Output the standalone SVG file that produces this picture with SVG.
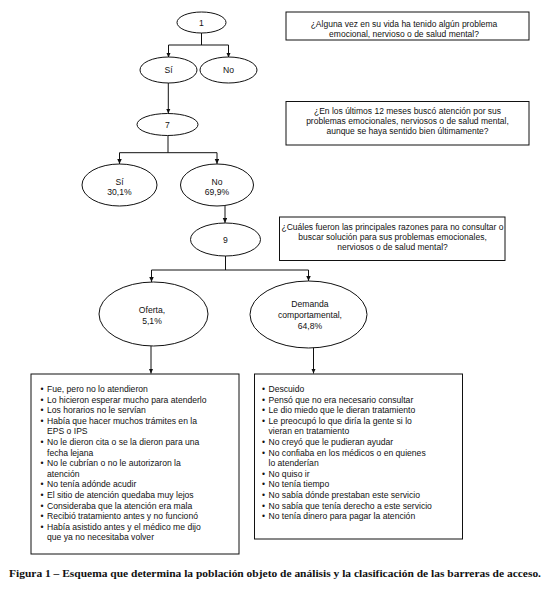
<svg xmlns="http://www.w3.org/2000/svg" width="545" height="598" viewBox="0 0 545 598">
<defs>
<marker id="arr" markerUnits="userSpaceOnUse" markerWidth="6" markerHeight="6" refX="5" refY="2.25" orient="auto">
<path d="M0,0 L5,2.25 L0,4.5 z" fill="#111"/>
</marker>
<style>
.n{fill:#fff;stroke:#111;stroke-width:1}
.t{font-family:"Liberation Sans",Arial,sans-serif;font-size:8.6px;fill:#111}
.c{text-anchor:middle}
.q{font-size:8.5px}
.e{stroke:#111;stroke-width:1;fill:none}
.cap{font-family:"Liberation Serif","Times New Roman",serif;font-size:10px;font-weight:bold;fill:#111}
</style>
</defs>
<rect width="545" height="598" fill="#fff"/>
<g id="connectors">
<path class="e" d="M201.5,33 V45 M168.5,45 H228.5"/>
<path class="e" d="M168.5,45 V57.5" marker-end="url(#arr)"/>
<path class="e" d="M228.5,45 V57.5" marker-end="url(#arr)"/>
<path class="e" d="M168.3,83 V113.5" marker-end="url(#arr)"/>
<path class="e" d="M168,135.5 V152.7 M119.5,152.7 H217"/>
<path class="e" d="M119.5,152.7 V164" marker-end="url(#arr)"/>
<path class="e" d="M217,152.7 V164" marker-end="url(#arr)"/>
<path class="e" d="M225,205 V223" marker-end="url(#arr)"/>
<path class="e" d="M225.5,256 V270 M151.5,270 H308.5"/>
<path class="e" d="M151.5,270 V282" marker-end="url(#arr)"/>
<path class="e" d="M308.5,270 V281" marker-end="url(#arr)"/>
<path class="e" d="M151,346 V373.5" marker-end="url(#arr)"/>
<path class="e" d="M313.5,347 V373.5" marker-end="url(#arr)"/>
</g>
<g id="n1">
<ellipse class="n" cx="201.5" cy="22.5" rx="24.5" ry="10.5"/>
<text class="t c" x="201.5" y="25.5">1</text>
</g>
<g id="q1">
<rect class="n" x="286" y="12" width="243" height="28"/>
<text class="t c q" x="404" y="26.5">¿Alguna vez en su vida ha tenido algún problema</text>
<text class="t c q" x="404" y="36.5">emocional, nervioso o de salud mental?</text>
</g>
<g id="si1">
<ellipse class="n" cx="168.5" cy="70" rx="28.5" ry="13"/>
<text class="t c" x="168.5" y="73">Sí</text>
</g>
<g id="no1">
<ellipse class="n" cx="228.5" cy="70" rx="28.5" ry="13"/>
<text class="t c" x="228.5" y="73">No</text>
</g>
<g id="n7">
<ellipse class="n" cx="167.5" cy="124.5" rx="30.5" ry="11"/>
<text class="t c" x="167.5" y="127.5">7</text>
</g>
<g id="q7">
<rect class="n" x="286" y="101.5" width="243" height="43.5"/>
<text class="t c q" x="407.5" y="113.5">¿En los últimos 12 meses buscó atención por sus</text>
<text class="t c q" x="407.5" y="123.5">problemas emocionales, nerviosos o de salud mental,</text>
<text class="t c q" x="407.5" y="133.5">aunque se haya sentido bien últimamente?</text>
</g>
<g id="si7">
<ellipse class="n" cx="119.5" cy="185" rx="37.5" ry="21"/>
<text class="t c" x="119.5" y="184.5">Sí</text>
<text class="t c" x="119.5" y="195">30,1%</text>
</g>
<g id="no7">
<ellipse class="n" cx="217" cy="185" rx="36.5" ry="21"/>
<text class="t c" x="217" y="184.5">No</text>
<text class="t c" x="217" y="195">69,9%</text>
</g>
<g id="n9">
<ellipse class="n" cx="225.5" cy="239.5" rx="35" ry="16.5"/>
<text class="t c" x="225.5" y="242.5">9</text>
</g>
<g id="q9">
<rect class="n" x="279.5" y="217" width="225.5" height="43.5"/>
<text class="t c q" x="392.5" y="229.5">¿Cuáles fueron las principales razones para no consultar o</text>
<text class="t c q" x="392.5" y="239.5">buscar solución para sus problemas emocionales,</text>
<text class="t c q" x="392.5" y="249.5">nerviosos o de salud mental?</text>
</g>
<g id="oferta">
<ellipse class="n" cx="153.5" cy="314" rx="54.5" ry="32"/>
<text class="t c" x="152" y="312.5">Oferta,</text>
<text class="t c" x="152" y="323.5">5,1%</text>
</g>
<g id="demanda">
<ellipse class="n" cx="308.5" cy="314.5" rx="58.5" ry="33.5"/>
<text class="t c" x="310" y="307">Demanda</text>
<text class="t c" x="310" y="318">comportamental,</text>
<text class="t c" x="310" y="328.5">64,8%</text>
</g>
<g id="lista-oferta">
<rect class="n" x="31" y="374" width="208" height="180"/>
<g class="t">
<text x="40.5" y="392">•</text><text x="47" y="392">Fue, pero no lo atendieron</text>
<text x="40.5" y="402.6">•</text><text x="47" y="402.6">Lo hicieron esperar mucho para atenderlo</text>
<text x="40.5" y="413.2">•</text><text x="47" y="413.2">Los horarios no le servían</text>
<text x="40.5" y="423.8">•</text><text x="47" y="423.8">Había que hacer muchos trámites en la</text>
<text x="47" y="434.4">EPS o IPS</text>
<text x="40.5" y="445">•</text><text x="47" y="445">No le dieron cita o se la dieron para una</text>
<text x="47" y="455.6">fecha lejana</text>
<text x="40.5" y="466.2">•</text><text x="47" y="466.2">No le cubrían o no le autorizaron la</text>
<text x="47" y="476.8">atención</text>
<text x="40.5" y="487.4">•</text><text x="47" y="487.4">No tenía adónde acudir</text>
<text x="40.5" y="498">•</text><text x="47" y="498">El sitio de atención quedaba muy lejos</text>
<text x="40.5" y="508.6">•</text><text x="47" y="508.6">Consideraba que la atención era mala</text>
<text x="40.5" y="519.2">•</text><text x="47" y="519.2">Recibió tratamiento antes y no funcionó</text>
<text x="40.5" y="529.8">•</text><text x="47" y="529.8">Había asistido antes y el médico me dijo</text>
<text x="47" y="540.4">que ya no necesitaba volver</text>
</g>
</g>
<g id="lista-demanda">
<rect class="n" x="254.5" y="374" width="208" height="165"/>
<g class="t">
<text x="262" y="392">•</text><text x="268.5" y="392">Descuido</text>
<text x="262" y="402.6">•</text><text x="268.5" y="402.6">Pensó que no era necesario consultar</text>
<text x="262" y="413.2">•</text><text x="268.5" y="413.2">Le dio miedo que le dieran tratamiento</text>
<text x="262" y="423.8">•</text><text x="268.5" y="423.8">Le preocupó lo que diría la gente si lo</text>
<text x="268.5" y="434.4">vieran en tratamiento</text>
<text x="262" y="445">•</text><text x="268.5" y="445">No creyó que le pudieran ayudar</text>
<text x="262" y="455.6">•</text><text x="268.5" y="455.6">No confiaba en los médicos o en quienes</text>
<text x="268.5" y="466.2">lo atenderían</text>
<text x="262" y="476.8">•</text><text x="268.5" y="476.8">No quiso ir</text>
<text x="262" y="487.4">•</text><text x="268.5" y="487.4">No tenía tiempo</text>
<text x="262" y="498">•</text><text x="268.5" y="498">No sabía dónde prestaban este servicio</text>
<text x="262" y="508.6">•</text><text x="268.5" y="508.6">No sabía que tenía derecho a este servicio</text>
<text x="262" y="519.2">•</text><text x="268.5" y="519.2">No tenía dinero para pagar la atención</text>
</g>
</g>
<text class="cap" x="9" y="577" textLength="532" lengthAdjust="spacingAndGlyphs">Figura 1 – Esquema que determina la población objeto de análisis y la clasificación de las barreras de acceso.</text>
</svg>
